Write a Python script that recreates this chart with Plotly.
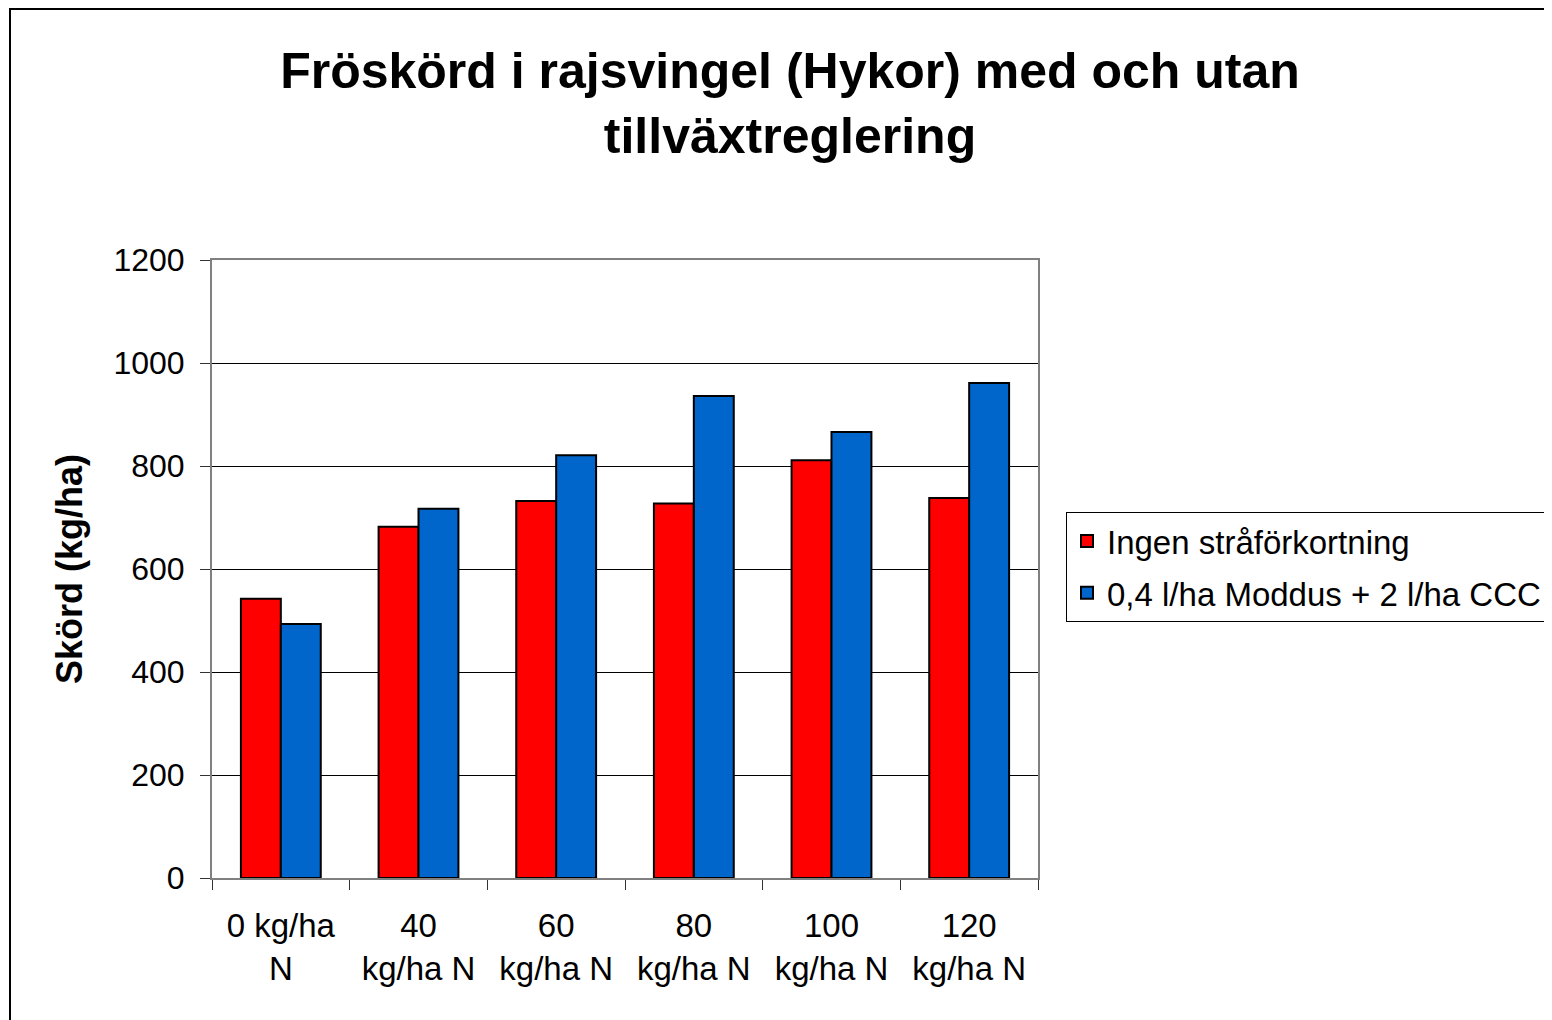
import plotly.graph_objects as go

categories = ["0 kg/ha<br>N", "40<br>kg/ha N", "60<br>kg/ha N", "80<br>kg/ha N", "100<br>kg/ha N", "120<br>kg/ha N"]
series_names = ["Ingen stråförkortning", "0,4 l/ha Moddus + 2 l/ha CCC"]
ingen = [542, 682, 732, 727, 811, 738]
moddus = [493, 717, 821, 936, 866, 961]
y_ticks = [0, 200, 400, 600, 800, 1000, 1200]

colors = ["#FF0000", "#0066CC"]
# page has an 8px body margin, so the figure is drawn 8px smaller
OFF = 8
W, H = 1552 - OFF, 1020 - OFF
L, R, T, B = 212 - OFF, 1038 - OFF, 260 - OFF, 878 - OFF

fig = go.Figure()
for i, (name, vals) in enumerate(zip(series_names, [ingen, moddus])):
    fig.add_trace(go.Bar(
        x=categories, y=vals, name=name, legendgroup=f"g{i}",
        marker=dict(color=colors[i], line=dict(color="black", width=2)),
    ))

font = "Liberation Sans, Arial, sans-serif"
fig.update_layout(
    width=W, height=H,
    margin=dict(l=L, r=W - R, t=T, b=H - B, autoexpand=False),
    paper_bgcolor="white", plot_bgcolor="white",
    barmode="group", bargap=0.42, bargroupgap=0,
    font=dict(family=font, size=32, color="black"),
    title=dict(
        text="<b>Fröskörd i rajsvingel (Hykor) med och utan<br>tillväxtreglering</b>",
        x=(790 - OFF) / W, xanchor="center", xref="container",
        y=1 - 80 / H, yanchor="top", yref="container",
        font=dict(family=font, size=50, color="black"),
    ),
    legend=dict(
        xref="container", yref="container",
        x=(1066 - OFF) / W, xanchor="left", y=1 - (512 - OFF) / H, yanchor="top",
        bgcolor="white", bordercolor="black", borderwidth=1,
        font=dict(family=font, size=33, color="black"),
        traceorder="grouped", tracegroupgap=6,
    ),
    showlegend=True,
)
fig.update_xaxes(
    type="category", tickson="boundaries", ticks="outside", ticklen=10,
    tickcolor="#333333", tickwidth=1,
    showline=True, linecolor="#808080", linewidth=2, mirror=True,
    showgrid=False, tickfont=dict(size=33), ticklabelstandoff=17,
)
fig.update_yaxes(
    range=[0, 1200], tickvals=y_ticks, ticks="outside", ticklen=10,
    tickcolor="#333333", tickwidth=1,
    showline=True, linecolor="#808080", linewidth=2, mirror=True,
    showgrid=True, gridcolor="black", gridwidth=1, zeroline=False,
    tickfont=dict(size=32), ticklabelstandoff=9,
    title=dict(text="<b>Skörd (kg/ha)</b>", font=dict(size=36), standoff=20),
)
# outer chart border
fig.add_shape(type="rect", xref="paper", yref="paper",
              x0=(2 - L) / (R - L), x1=(1600 - L) / (R - L),
              y0=(B - 1100) / (B - T), y1=(B - 1) / (B - T),
              line=dict(color="black", width=2), fillcolor="rgba(0,0,0,0)", layer="below")

fig.write_html("out.html")
